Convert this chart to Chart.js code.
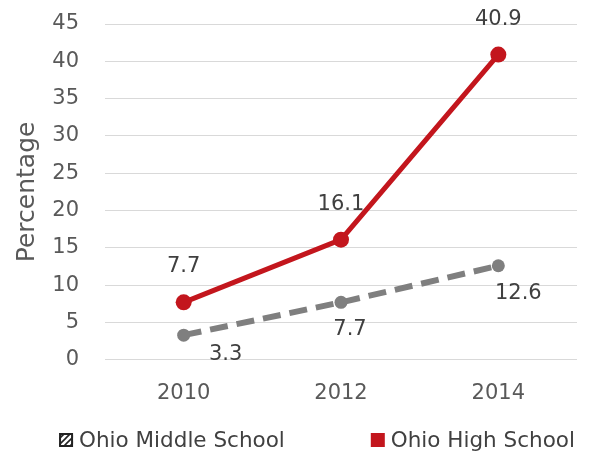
<!DOCTYPE html>
<html>
<head>
<meta charset="utf-8">
<script src="https://cdn.jsdelivr.net/npm/chart.js@4"></script>
<style>
  html, body { margin: 0; padding: 0; background: #fff; }
  #wrap { width: 595px; height: 451px; }
</style>
</head>
<body>
<div id="wrap"><canvas id="lineChart" width="595" height="451"></canvas></div>
<script>
const years = ['2010', '2012', '2014'];
const middleSchool = [3.3, 7.7, 12.6];
const highSchool = [7.7, 16.1, 40.9];
const yTicks = [0, 5, 10, 15, 20, 25, 30, 35, 40, 45];

const FONT = "'DejaVu Sans', sans-serif";
const RED = '#c3161d';
const GREY = '#7f7f7f';

// hatched fill for the middle school legend box
function hatchPattern(ctx) {
  const c = document.createElement('canvas');
  c.width = 6; c.height = 6;
  const g = c.getContext('2d');
  g.fillStyle = '#fff';
  g.fillRect(0, 0, 6, 6);
  g.strokeStyle = '#222';
  g.lineWidth = 1.6;
  g.beginPath();
  g.moveTo(0, 6); g.lineTo(6, 0);
  g.moveTo(-3, 3); g.lineTo(3, -3);
  g.moveTo(3, 9); g.lineTo(9, 3);
  g.stroke();
  return ctx.createPattern(c, 'repeat');
}

// value labels next to each point
const valueLabels = {
  id: 'valueLabels',
  afterDatasetsDraw(chart) {
    const ctx = chart.ctx;
    ctx.save();
    ctx.font = '21px ' + FONT;
    ctx.fillStyle = '#404040';
    ctx.textAlign = 'center';
    ctx.textBaseline = 'middle';
    const offsets = [
      [[42, 19], [9, 27], [20, 28]],     // middle school: below / right
      [[0, -36], [0, -35], [0, -35]]     // high school: above
    ];
    chart.data.datasets.forEach((ds, i) => {
      chart.getDatasetMeta(i).data.forEach((pt, j) => {
        const o = offsets[i][j];
        ctx.fillText(ds.data[j].toFixed(1), pt.x + o[0], pt.y + o[1]);
      });
    });
    ctx.restore();
  }
};

// legend row under the axis
const bottomLegend = {
  id: 'bottomLegend',
  afterDraw(chart) {
    const ctx = chart.ctx;
    ctx.save();
    ctx.font = '21.5px ' + FONT;
    ctx.textBaseline = 'middle';
    const box = 14, gapText = 6, gapItem = 86, y = 440;
    const items = chart.data.datasets.map(ds => ds.label);
    const widths = items.map(t => box + gapText + ctx.measureText(t).width);
    const total = widths[0] + gapItem + widths[1];
    let x = 317 - total / 2;
    items.forEach((t, i) => {
      if (i === 0) {
        ctx.fillStyle = hatchPattern(ctx);
        ctx.fillRect(x, y - box / 2, box, box);
        ctx.strokeStyle = '#222';
        ctx.lineWidth = 2;
        ctx.strokeRect(x + 1, y - box / 2 + 1, box - 2, box - 2);
      } else {
        ctx.fillStyle = RED;
        ctx.fillRect(x, y - box / 2, box, box);
      }
      ctx.fillStyle = '#404040';
      ctx.fillText(t, x + box + gapText, y + 1);
      x += widths[i] + gapItem;
    });
    ctx.restore();
  }
};

new Chart(document.getElementById('lineChart'), {
  type: 'line',
  data: {
    labels: years,
    datasets: [
      {
        label: 'Ohio Middle School',
        data: middleSchool,
        borderColor: GREY,
        backgroundColor: GREY,
        borderWidth: 6,
        borderDash: [18, 9],
        pointRadius: 6.5,
        pointBackgroundColor: GREY,
        pointBorderWidth: 0,
        tension: 0
      },
      {
        label: 'Ohio High School',
        data: highSchool,
        borderColor: RED,
        backgroundColor: RED,
        borderWidth: 5,
        pointRadius: 8,
        pointBackgroundColor: RED,
        pointBorderWidth: 0,
        tension: 0
      }
    ]
  },
  options: {
    responsive: false,
    animation: false,
    layout: { padding: { left: 12, right: 18, top: 24, bottom: 24 } },
    scales: {
      x: {
        offset: true,
        grid: { display: false, drawTicks: false },
        border: { display: false },
        ticks: { color: '#595959', font: { family: FONT, size: 21 }, padding: 21 }
      },
      y: {
        min: 0,
        max: 45,
        afterBuildTicks(axis) { axis.ticks = yTicks.map(v => ({ value: v })); },
        afterFit(axis) {
          axis.width = 93;
          axis.paddingTop = 0;
          axis.paddingBottom = 0;
        },
        grid: { color: '#d9d9d9', lineWidth: 1, drawTicks: false },
        border: { display: false },
        ticks: { color: '#595959', font: { family: FONT, size: 21 }, padding: 26 },
        title: {
          display: true,
          text: 'Percentage',
          color: '#595959',
          font: { family: FONT, size: 25 },
          padding: { top: 0, bottom: 0 }
        }
      }
    },
    plugins: {
      legend: { display: false },
      tooltip: { enabled: false }
    }
  },
  plugins: [valueLabels, bottomLegend]
});
</script>
</body>
</html>
